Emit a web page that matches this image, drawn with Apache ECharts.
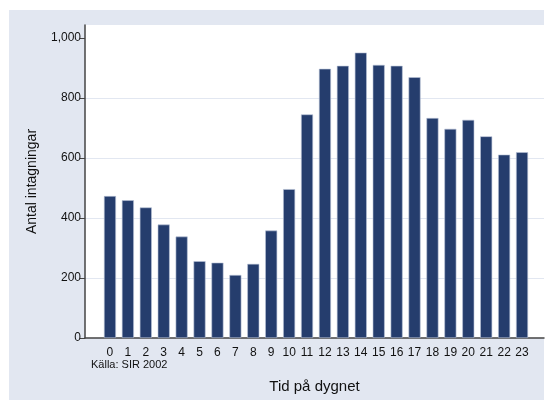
<!DOCTYPE html>
<html>
<head>
<meta charset="utf-8">
<script src="https://cdn.jsdelivr.net/npm/echarts@6/dist/echarts.min.js"></script>
<style>
html,body{margin:0;padding:0;background:#fff;}
#chart{width:545px;height:401px;}
</style>
</head>
<body>
<div id="chart"></div>
<script>
var categories = ['0','1','2','3','4','5','6','7','8','9','10','11','12','13','14','15','16','17','18','19','20','21','22','23'];
var values = [473, 459, 435, 378, 338, 256, 251, 210, 247, 358, 496, 745, 897, 907, 951, 910, 907, 869, 733, 697, 727, 672, 611, 619];
var yTicks = [0, 200, 400, 600, 800, 1000];

var chart = echarts.init(document.getElementById('chart'), null, {renderer: 'canvas'});
var font = 'Liberation Sans, Arial, sans-serif';
var yMax = 1043;
var option = {
  backgroundColor: '#ffffff',
  animation: false,
  graphic: [{
    type: 'rect', z: -10, silent: true,
    shape: {x: 9, y: 10, width: 535, height: 390},
    style: {fill: '#e2e7f1'}
  }, {
    type: 'text', left: 91, top: 359, silent: true,
    style: {text: 'Källa: SIR 2002', font: '11px ' + font, fill: '#111'}
  }],
  grid: [
    {left: 85, right: 1, top: 25, bottom: 63, show: true, backgroundColor: '#ffffff', borderWidth: 0},
    {left: 101, right: 14, top: 25, bottom: 63}
  ],
  xAxis: [
    {gridIndex: 0, type: 'value', min: 0, max: 1, show: true,
     axisLine: {show: true, lineStyle: {color: '#444', width: 1.5}},
     axisTick: {show: false}, axisLabel: {show: false}, splitLine: {show: false},
     name: 'Tid på dygnet', nameLocation: 'middle', nameGap: 41,
     nameTextStyle: {fontFamily: font, fontSize: 15, color: '#111'}},
    {gridIndex: 1, type: 'category', data: categories,
     axisLine: {show: false}, axisTick: {show: false},
     axisLabel: {interval: 0, fontFamily: font, fontSize: 12, color: '#111', margin: 9}}
  ],
  yAxis: [
    {gridIndex: 0, type: 'value', min: 0, max: yMax, interval: 200,
     axisLine: {show: true, lineStyle: {color: '#444', width: 1.5}},
     axisTick: {show: true, length: 5, lineStyle: {color: '#444'}, customValues: yTicks},
     axisLabel: {fontFamily: font, fontSize: 12, color: '#111', margin: 4, customValues: yTicks,
       formatter: function(v){ return v.toLocaleString('en-US'); }},
     splitLine: {show: true, showMaxLine: false, lineStyle: {color: '#e2e7f1', width: 1}},
     name: 'Antal intagningar', nameLocation: 'middle', nameGap: 46,
     nameTextStyle: {fontFamily: font, fontSize: 14, color: '#111'}},
    {gridIndex: 1, type: 'value', min: 0, max: yMax, show: false}
  ],
  series: [{
    type: 'bar', xAxisIndex: 1, yAxisIndex: 1,
    data: values, barWidth: 12,
    itemStyle: {color: '#253d6d', borderColor: '#b9c2d6', borderWidth: 0.6}
  }]
};
chart.setOption(option);
</script>
</body>
</html>
